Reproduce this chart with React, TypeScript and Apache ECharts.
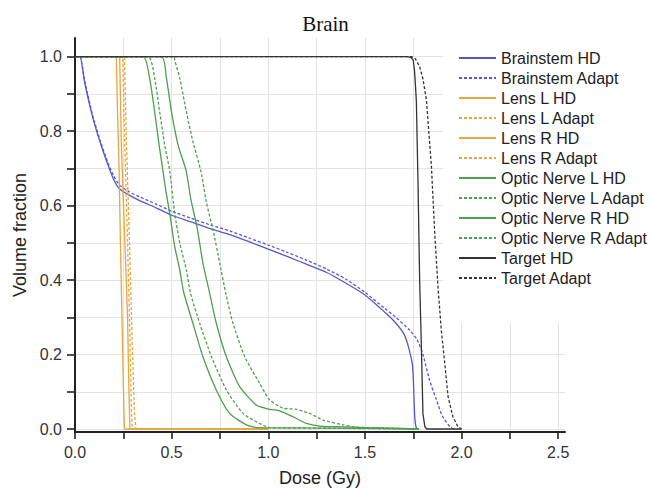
import React, { useEffect, useRef } from "react";
import * as echarts from "echarts";

// ---- tick values ----
const xTicks = [0, 0.25, 0.5, 0.75, 1.0, 1.25, 1.5, 1.75, 2.0, 2.25, 2.5];
const xLabels = [0, 0.5, 1.0, 1.5, 2.0, 2.5];
const yTicks = [0, 0.1, 0.2, 0.3, 0.4, 0.5, 0.6, 0.7, 0.8, 0.9, 1.0];
const yLabels = [0, 0.2, 0.4, 0.6, 0.8, 1.0];

// ---- series values: [dose (Gy), volume fraction] ----
const brainstemHD: number[][] = [
  [0, 1], [0.025, 1], [0.05, 0.93], [0.09, 0.84], [0.13, 0.77], [0.17, 0.71], [0.2, 0.67],
  [0.23, 0.645], [0.28, 0.628], [0.34, 0.612], [0.42, 0.594], [0.5, 0.574], [0.6, 0.556],
  [0.7, 0.538], [0.8, 0.522], [0.9, 0.503], [1.0, 0.483], [1.1, 0.463], [1.2, 0.442],
  [1.3, 0.421], [1.4, 0.392], [1.5, 0.36], [1.6, 0.315], [1.65, 0.29], [1.7, 0.257],
  [1.72, 0.23], [1.735, 0.2], [1.745, 0.175], [1.75, 0.14], [1.754, 0.08], [1.758, 0.03],
  [1.764, 0.006], [1.772, 0],
];
const brainstemAdapt: number[][] = [
  [0, 1], [0.025, 1], [0.05, 0.935], [0.09, 0.845], [0.13, 0.775], [0.17, 0.715], [0.2, 0.68],
  [0.23, 0.655], [0.28, 0.637], [0.34, 0.622], [0.42, 0.604], [0.5, 0.585], [0.6, 0.566],
  [0.7, 0.548], [0.8, 0.532], [0.9, 0.513], [1.0, 0.494], [1.1, 0.474], [1.2, 0.453],
  [1.3, 0.43], [1.4, 0.403], [1.5, 0.367], [1.6, 0.325], [1.66, 0.3], [1.73, 0.266],
  [1.77, 0.24], [1.8, 0.2], [1.835, 0.13], [1.87, 0.078], [1.9, 0.035], [1.94, 0.006],
  [1.96, 0],
];
const lensLHD: number[][] = [
  [0, 1], [0.214, 1], [0.22, 0.85], [0.228, 0.7], [0.235, 0.5], [0.243, 0.3], [0.25, 0.12],
  [0.255, 0.01], [0.258, 0], [1.0, 0],
];
const lensLAdapt: number[][] = [
  [0, 1], [0.247, 1], [0.258, 0.75], [0.272, 0.5], [0.284, 0.25], [0.292, 0.05], [0.296, 0],
  [1.0, 0],
];
const lensRHD: number[][] = [
  [0, 1], [0.231, 1], [0.24, 0.76], [0.258, 0.5], [0.272, 0.3], [0.279, 0.1], [0.284, 0],
  [1.0, 0],
];
const lensRAdapt: number[][] = [
  [0, 1], [0.256, 1], [0.267, 0.75], [0.282, 0.5], [0.295, 0.25], [0.307, 0.05], [0.315, 0],
  [1.0, 0],
];
const opticLHD: number[][] = [
  [0, 1], [0.352, 1], [0.386, 0.942], [0.412, 0.852], [0.435, 0.763], [0.455, 0.693],
  [0.47, 0.64], [0.49, 0.579], [0.516, 0.49], [0.542, 0.427], [0.562, 0.368], [0.61, 0.284],
  [0.662, 0.194], [0.731, 0.105], [0.8, 0.042], [0.887, 0.011], [0.94, 0.004], [1.2, 0.003],
  [1.5, 0.002], [1.78, 0],
];
const opticLAdapt: number[][] = [
  [0, 1], [0.378, 1], [0.412, 0.942], [0.438, 0.852], [0.464, 0.763], [0.49, 0.693],
  [0.516, 0.579], [0.542, 0.499], [0.576, 0.427], [0.598, 0.364], [0.645, 0.284],
  [0.706, 0.194], [0.783, 0.105], [0.869, 0.042], [0.955, 0.015], [1.007, 0.004],
  [1.3, 0.002], [1.78, 0],
];
const opticRHD: number[][] = [
  [0, 1], [0.447, 1], [0.473, 0.942], [0.499, 0.852], [0.533, 0.763], [0.575, 0.693],
  [0.6, 0.615], [0.632, 0.54], [0.662, 0.445], [0.697, 0.364], [0.731, 0.284],
  [0.783, 0.194], [0.852, 0.114], [0.939, 0.064], [1.007, 0.053], [1.059, 0.049],
  [1.128, 0.033], [1.197, 0.015], [1.266, 0.008], [1.388, 0.006], [1.5, 0.004], [1.78, 0],
];
const opticRAdapt: number[][] = [
  [0, 1], [0.512, 1], [0.516, 0.99], [0.542, 0.942], [0.576, 0.852], [0.61, 0.772],
  [0.652, 0.691], [0.68, 0.608], [0.714, 0.535], [0.749, 0.445], [0.78, 0.364],
  [0.817, 0.284], [0.878, 0.194], [0.955, 0.123], [1.007, 0.078], [1.076, 0.056],
  [1.145, 0.053], [1.214, 0.042], [1.283, 0.024], [1.388, 0.011], [1.45, 0.005],
  [1.6, 0.003], [1.78, 0],
];
const targetHD: number[][] = [
  [0, 1], [1.72, 1], [1.74, 0.997], [1.75, 0.99], [1.757, 0.96], [1.766, 0.88],
  [1.775, 0.65], [1.783, 0.4], [1.792, 0.22], [1.8, 0.042], [1.81, 0.006], [1.82, 0], [2.0, 0],
];
const targetAdapt: number[][] = [
  [0, 1], [1.74, 1], [1.76, 0.995], [1.783, 0.973], [1.8, 0.94], [1.818, 0.884],
  [1.83, 0.8], [1.844, 0.705], [1.861, 0.526], [1.878, 0.38], [1.895, 0.266],
  [1.913, 0.176], [1.93, 0.087], [1.955, 0.033], [1.981, 0.006], [2.0, 0],
];

const seriesNames = [
  "Brainstem HD", "Brainstem Adapt", "Lens L HD", "Lens L Adapt", "Lens R HD", "Lens R Adapt",
  "Optic Nerve L HD", "Optic Nerve L Adapt", "Optic Nerve R HD", "Optic Nerve R Adapt",
  "Target HD", "Target Adapt",
];
const seriesData = [
  brainstemHD, brainstemAdapt, lensLHD, lensLAdapt, lensRHD, lensRAdapt,
  opticLHD, opticLAdapt, opticRHD, opticRAdapt, targetHD, targetAdapt,
];
const BLUE = "#5656c8";
const ORANGE = "#e9a53f";
const GREEN = "#4f9d4f";
const BLACK = "#333333";
const seriesColors = [BLUE, BLUE, ORANGE, ORANGE, ORANGE, ORANGE, GREEN, GREEN, GREEN, GREEN, BLACK, BLACK];
const seriesSmooth = [0.2, 0.2, 0, 0, 0, 0, 0.2, 0.2, 0.2, 0.2, 0, 0];

const SANS = '"Liberation Sans", Arial, Helvetica, sans-serif';

export default function App() {
  const ref = useRef<HTMLDivElement>(null);
  useEffect(() => {
    if (!ref.current) return;
    const chart = echarts.init(ref.current, null, { renderer: "svg" });
    const series = seriesNames.map((name, i) => ({
      name,
      type: "line",
      data: seriesData[i],
      symbol: "none",
      showSymbol: false,
      smooth: seriesSmooth[i],
      clip: true,
      lineStyle: {
        color: seriesColors[i],
        width: 1.3,
        type: i % 2 === 1 ? [3, 2] : "solid",
      },
      itemStyle: { color: seriesColors[i] },
      emphasis: { disabled: true },
    }));
    chart.setOption({
      animation: false,
      backgroundColor: "#ffffff",
      title: {
        text: "Brain",
        left: "center",
        top: 8,
        textStyle: {
          fontFamily: '"Liberation Serif", "Times New Roman", serif',
          fontSize: 21,
          fontWeight: "normal",
          color: "#111",
        },
      },
      legend: {
        orient: "vertical",
        left: 443,
        top: 37,
        padding: [13, 5, 36, 15],
        backgroundColor: "#ffffff",
        itemWidth: 37,
        itemHeight: 14,
        itemGap: 4,
        selectedMode: false,
        data: seriesNames,
        itemStyle: {
          color: "rgba(0,0,0,0)",
          borderColor: "rgba(0,0,0,0)",
          borderWidth: 0,
          opacity: 0,
        },
        textStyle: { fontFamily: SANS, fontSize: 16, color: "#222" },
      },
      grid: {
        left: 75,
        right: 86,
        top: 38,
        bottom: 57,
        containLabel: false,
        outerBoundsMode: "none",
      },
      xAxis: {
        type: "value",
        min: 0,
        max: 2.535,
        name: "Dose (Gy)",
        nameLocation: "middle",
        nameGap: 37,
        nameTextStyle: { fontFamily: SANS, fontSize: 18, color: "#222" },
        axisLine: { show: true, onZero: false, lineStyle: { color: "#222", width: 2 } },
        axisTick: {
          show: true,
          length: 7,
          customValues: xTicks,
          lineStyle: { color: "#222", width: 1.6 },
        },
        axisLabel: {
          customValues: xLabels,
          margin: 12,
          fontFamily: SANS,
          fontSize: 16,
          color: "#333",
          formatter: (v: number) => v.toFixed(1),
        },
        splitLine: { show: true, lineStyle: { color: "#e3e3e3", width: 1 } },
      },
      yAxis: {
        type: "value",
        min: -0.008,
        max: 1.05,
        name: "Volume fraction",
        nameLocation: "middle",
        nameGap: 46,
        nameTextStyle: { fontFamily: SANS, fontSize: 18, color: "#222" },
        axisLine: { show: true, onZero: false, lineStyle: { color: "#222", width: 2 } },
        axisTick: {
          show: true,
          length: 8,
          customValues: yTicks,
          lineStyle: { color: "#222", width: 1.6 },
        },
        axisLabel: {
          customValues: yLabels,
          margin: 13,
          fontFamily: SANS,
          fontSize: 16,
          color: "#333",
          formatter: (v: number) => v.toFixed(1),
        },
        splitLine: { show: true, lineStyle: { color: "#e3e3e3", width: 1 } },
      },
      series,
    });
    return () => chart.dispose();
  }, []);
  return (
    <div
      ref={ref}
      style={{ position: "fixed", left: 0, top: 0, width: 651, height: 489 }}
    />
  );
}
